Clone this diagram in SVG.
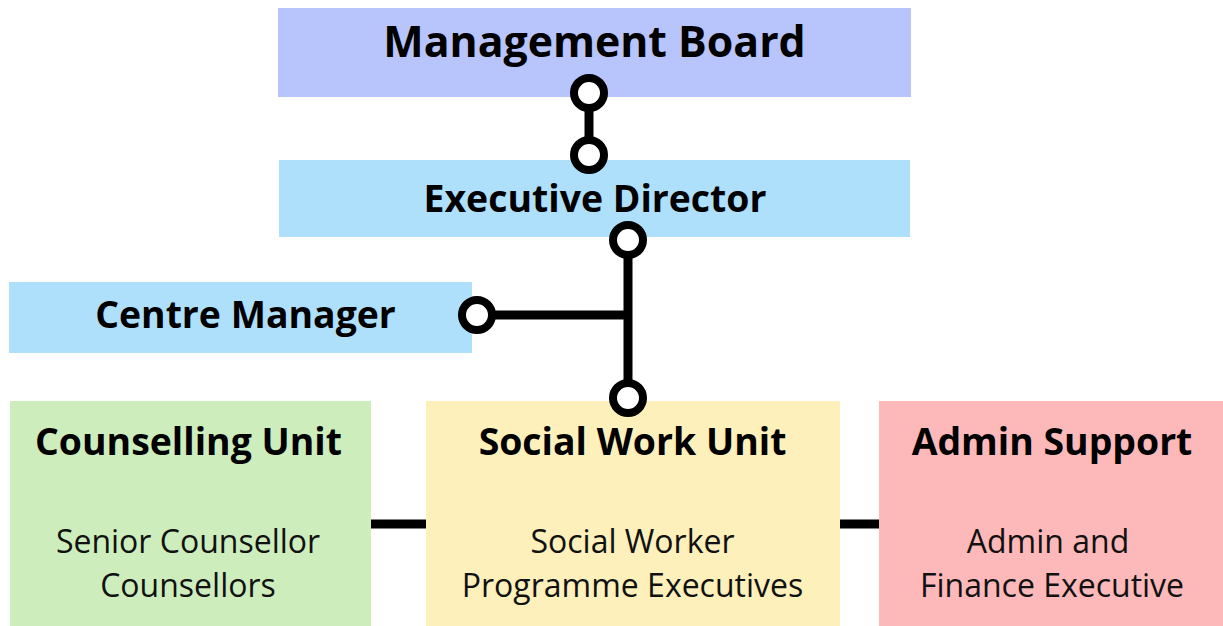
<svg xmlns="http://www.w3.org/2000/svg" width="1223" height="626" viewBox="0 0 1223 626">
  <style>
    .title { font-family: "Open Sans", "Liberation Sans", sans-serif; font-weight: 700; font-size: 37.4px; fill: #000; text-anchor: middle; }
    .body { font-family: "Open Sans", "Liberation Sans", sans-serif; font-weight: 400; font-size: 32px; fill: #111; text-anchor: middle; }
    .link { stroke: #000; stroke-width: 9; fill: none; }
    .end { stroke: #000; stroke-width: 8; fill: #fff; }
  </style>
  <rect width="1223" height="626" fill="#fff"/>

  <g id="management-board">
    <rect x="278" y="8" width="633" height="89" fill="#b8c4fc"/>
    <text class="title" x="594.5" y="57" style="font-size:42.8px">Management Board</text>
  </g>

  <g id="executive-director">
    <rect x="279" y="160" width="631" height="77" fill="#aee0fc"/>
    <text class="title" x="595" y="212">Executive Director</text>
  </g>

  <g id="centre-manager">
    <rect x="9" y="282" width="463" height="71" fill="#aee0fc"/>
    <text class="title" x="245.5" y="328">Centre Manager</text>
  </g>

  <g id="counselling-unit">
    <rect x="10" y="401" width="361" height="225" fill="#cdeebc"/>
    <text class="title" x="188.5" y="455">Counselling Unit</text>
    <text class="body" x="188" y="553">Senior Counsellor</text>
    <text class="body" x="188" y="597">Counsellors</text>
  </g>

  <g id="social-work-unit">
    <rect x="426" y="401" width="414" height="225" fill="#fdf0bb"/>
    <text class="title" x="632.5" y="455">Social Work Unit</text>
    <text class="body" x="632.5" y="553">Social Worker</text>
    <text class="body" x="632.5" y="597">Programme Executives</text>
  </g>

  <g id="admin-support">
    <rect x="879" y="401" width="344" height="225" fill="#fdb9b9"/>
    <text class="title" x="1052" y="455">Admin Support</text>
    <text class="body" x="1048" y="553">Admin and</text>
    <text class="body" x="1052" y="597">Finance Executive</text>
  </g>

  <g id="connectors">
    <!-- board to director -->
    <line class="link" x1="589" y1="93" x2="589" y2="155"/>
    <circle class="end" cx="589" cy="93" r="15"/>
    <circle class="end" cx="589" cy="155" r="15"/>
    <!-- director down to social work unit, branching to centre manager -->
    <line class="link" x1="628" y1="240" x2="628" y2="398"/>
    <line class="link" x1="477" y1="315" x2="628" y2="315"/>
    <circle class="end" cx="628" cy="240" r="15"/>
    <circle class="end" cx="628" cy="398" r="15"/>
    <circle class="end" cx="477" cy="315" r="15"/>
    <!-- side units -->
    <line class="link" x1="371" y1="524" x2="426" y2="524"/>
    <line class="link" x1="840" y1="524" x2="879" y2="524"/>
  </g>
</svg>
